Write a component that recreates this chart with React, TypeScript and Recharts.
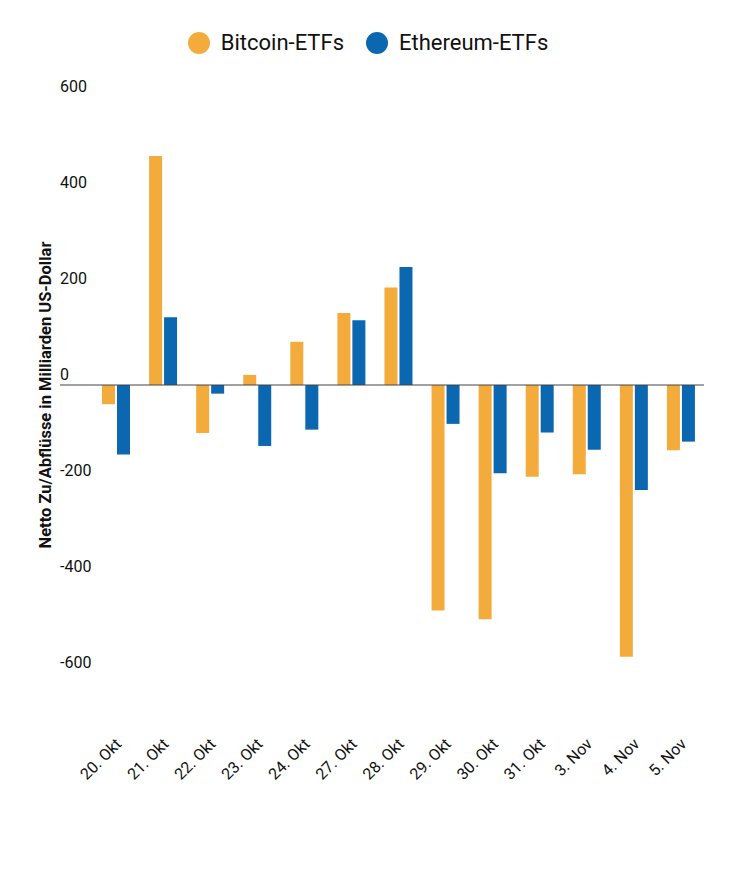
import { BarChart, Bar, XAxis, YAxis, ReferenceLine, Label } from "recharts"

const days = [
  "20. Okt",
  "21. Okt",
  "22. Okt",
  "23. Okt",
  "24. Okt",
  "27. Okt",
  "28. Okt",
  "29. Okt",
  "30. Okt",
  "31. Okt",
  "3. Nov",
  "4. Nov",
  "5. Nov",
]
const bitcoin = [-40, 477, -100, 21, 90, 150, 203, -470, -488, -191, -186, -566, -136]
const ethereum = [-145, 141, -18, -127, -93, 135, 246, -81, -184, -99, -135, -219, -118]
const yTicks = [-600, -400, -200, 0, 200, 400, 600]

const BTC_COLOR = "#F3AB3C"
const ETH_COLOR = "#0B67B0"
const FONT = "Roboto, sans-serif"

const data = days.map((day, i) => ({ day, btc: bitcoin[i], eth: ethereum[i] }))

function DayTick({ x, y, payload }: any) {
  const tx = x + 7
  const ty = y + 24
  return (
    <text
      x={tx}
      y={ty}
      transform={`rotate(-45, ${tx}, ${ty})`}
      textAnchor="end"
      fontSize={16}
      fontFamily={FONT}
      fill="#111"
    >
      {payload.value}
    </text>
  )
}

function ValueTick({ x, y, payload }: any) {
  return (
    <text x={x} y={y - 5} textAnchor="start" fontSize={16} fontFamily={FONT} fill="#111">
      {payload.value}
    </text>
  )
}

function AxisTitle({ viewBox }: any) {
  const cx = viewBox.x + 43
  const cy = viewBox.y + viewBox.height / 2 - 14
  return (
    <text
      x={cx}
      y={cy}
      transform={`rotate(-90, ${cx}, ${cy})`}
      textAnchor="middle"
      fontSize={16.5}
      fontWeight="bold"
      fontFamily={FONT}
      fill="#111"
    >
      Netto Zu/Abflüsse in Milliarden US-Dollar
    </text>
  )
}

function LegendItem({ color, label }: { color: string; label: string }) {
  return (
    <div style={{ display: "flex", alignItems: "center", margin: "0 11px" }}>
      <span
        style={{
          width: 22,
          height: 22,
          borderRadius: "50%",
          background: color,
          marginRight: 11,
        }}
      />
      <span style={{ fontSize: 22, color: "#111" }}>{label}</span>
    </div>
  )
}

export default function App() {
  return (
    <div style={{ position: "relative", width: 728, height: 861, fontFamily: FONT }}>
      <div
        style={{
          position: "absolute",
          top: 22,
          left: 0,
          width: 720,
          display: "flex",
          justifyContent: "center",
        }}
      >
        <LegendItem color={BTC_COLOR} label="Bitcoin-ETFs" />
        <LegendItem color={ETH_COLOR} label="Ethereum-ETFs" />
      </div>
      <BarChart
        width={728}
        height={861}
        data={data}
        margin={{ top: 89, right: 32, left: 0, bottom: 0 }}
        barGap={2}
        barSize={13}
      >
        <XAxis
          dataKey="day"
          height={148}
          padding={{ left: 32, right: 0 }}
          axisLine={false}
          tickLine={false}
          tickSize={0}
          tickMargin={0}
          interval={0}
          tick={<DayTick />}
        />
        <YAxis
          width={52}
          domain={[-700, 600]}
          ticks={yTicks}
          axisLine={false}
          tickLine={false}
          tickSize={0}
          tickMargin={0}
          tick={<ValueTick />}
        >
          <Label content={<AxisTitle />} />
        </YAxis>
        <ReferenceLine y={0} stroke="#444" strokeWidth={1} />
        <Bar dataKey="btc" name="Bitcoin-ETFs" fill={BTC_COLOR} isAnimationActive={false} />
        <Bar dataKey="eth" name="Ethereum-ETFs" fill={ETH_COLOR} isAnimationActive={false} />
      </BarChart>
    </div>
  )
}
